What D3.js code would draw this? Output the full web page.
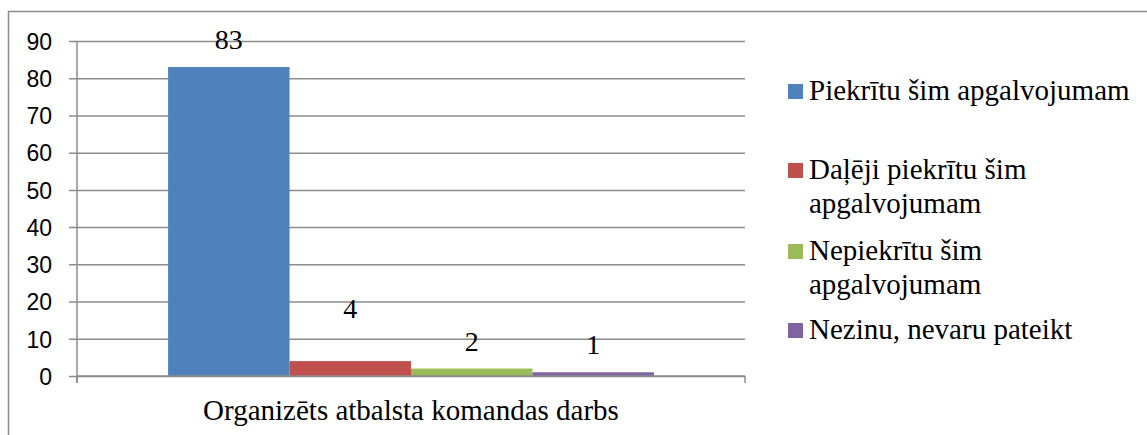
<!DOCTYPE html>
<html>
<head>
<meta charset="utf-8">
<script src="https://cdn.jsdelivr.net/npm/d3@7"></script>
<style>
  html, body { margin: 0; padding: 0; background: #fff; }
  svg { display: block; }
  .serif { font-family: "Liberation Serif", "DejaVu Serif", serif; }
  .sans { font-family: "Liberation Sans", Arial, sans-serif; }
</style>
</head>
<body>
<svg id="chart" width="1147" height="435"></svg>
<script>
// Survey answers for one statement
const category = "Organizēts atbalsta komandas darbs";
const seriesNames = [
  "Piekrītu šim apgalvojumam",
  "Daļēji piekrītu šim apgalvojumam",
  "Nepiekrītu šim apgalvojumam",
  "Nezinu, nevaru pateikt"
];
const values = [83, 4, 2, 1];
const colors = ["#4f81bd", "#c0504d", "#9bbb59", "#8064a2"];
const yTicks = [0, 10, 20, 30, 40, 50, 60, 70, 80, 90];
// legend wrapping, one array of lines per entry
const legendLines = [
  ["Piekrītu šim apgalvojumam"],
  ["Daļēji piekrītu šim", "apgalvojumam"],
  ["Nepiekrītu šim", "apgalvojumam"],
  ["Nezinu, nevaru pateikt"]
];

const svg = d3.select("#chart");
const grid = "#8c8c8c";

// outer frame (top and left edges visible)
svg.append("path")
  .attr("d", "M8.5,435 V11.5 H1147")
  .attr("fill", "none").attr("stroke", grid).attr("stroke-width", 1.5);

const plot = { left: 77, right: 745, top: 41, bottom: 376 };

const y = d3.scaleLinear().domain([0, 90]).range([plot.bottom, plot.top]);
const x0 = d3.scaleBand().domain([category]).range([plot.left, plot.right])
  .paddingInner(0).paddingOuter(0);
// gap width 150% of a bar on each side of the cluster
const groupW = x0.bandwidth() * 4 / (4 + 1.5);
const x1 = d3.scaleBand().domain(seriesNames)
  .range([x0(category) + (x0.bandwidth() - groupW) / 2, x0(category) + (x0.bandwidth() + groupW) / 2])
  .padding(0);

// gridlines with y ticks
const yAxis = d3.axisLeft(y).tickValues(yTicks)
  .tickSize(-(plot.right - plot.left)).tickSizeOuter(0).tickPadding(0);
const gy = svg.append("g").attr("transform", `translate(${plot.left},0)`).call(yAxis);
gy.attr("font-family", null).attr("font-size", null);
gy.select(".domain").remove();
gy.selectAll(".tick line")
  .attr("x1", -8)
  .attr("stroke", grid).attr("stroke-width", 1.5);
gy.selectAll(".tick text")
  .attr("x", -25).attr("dy", "0.36em")
  .attr("class", "sans")
  .style("font-size", "23px").attr("fill", "#000");

// vertical axis line
svg.append("line")
  .attr("x1", plot.left).attr("x2", plot.left)
  .attr("y1", plot.top).attr("y2", plot.bottom + 7)
  .attr("stroke", grid).attr("stroke-width", 1.5);

// bars
svg.append("g").selectAll("rect")
  .data(values)
  .join("rect")
  .attr("x", (d, i) => x1(seriesNames[i]))
  .attr("width", x1.bandwidth())
  .attr("y", d => y(d))
  .attr("height", d => y(0) - y(d))
  .attr("fill", (d, i) => colors[i]);

// horizontal axis with category boundary ticks
svg.append("line")
  .attr("x1", plot.left).attr("x2", plot.right)
  .attr("y1", plot.bottom).attr("y2", plot.bottom)
  .attr("stroke", grid).attr("stroke-width", 1.5);
[plot.left, plot.right].forEach(px => {
  svg.append("line")
    .attr("x1", px).attr("x2", px)
    .attr("y1", plot.bottom).attr("y2", plot.bottom + 7)
    .attr("stroke", grid).attr("stroke-width", 1.5);
});

// value labels (the second one is lifted clear of the others)
const labelLift = [0, 25, 0, 0];
svg.append("g").selectAll("text")
  .data(values)
  .join("text")
  .attr("class", "serif")
  .attr("x", (d, i) => x1(seriesNames[i]) + x1.bandwidth() / 2)
  .attr("y", (d, i) => y(d) - 18 - labelLift[i])
  .attr("text-anchor", "middle")
  .style("font-size", "28px").attr("fill", "#000")
  .text(d => d);

// category label
svg.append("text")
  .attr("class", "serif")
  .attr("x", x0(category) + x0.bandwidth() / 2)
  .attr("y", 420)
  .attr("text-anchor", "middle")
  .style("font-size", "29px").attr("fill", "#000")
  .text(category);

// legend
const legendTop = [100, 179, 260, 339];
const legend = svg.append("g");
legendLines.forEach((lines, i) => {
  legend.append("rect")
    .attr("x", 788).attr("y", legendTop[i] - 16)
    .attr("width", 15).attr("height", 15)
    .attr("fill", colors[i]);
  const t = legend.append("text")
    .attr("class", "serif")
    .attr("x", 809).attr("y", legendTop[i])
    .style("font-size", "29px").attr("fill", "#000");
  lines.forEach((ln, j) => {
    t.append("tspan").attr("x", 809).attr("dy", j === 0 ? 0 : 34).text(ln);
  });
});
</script>
</body>
</html>
